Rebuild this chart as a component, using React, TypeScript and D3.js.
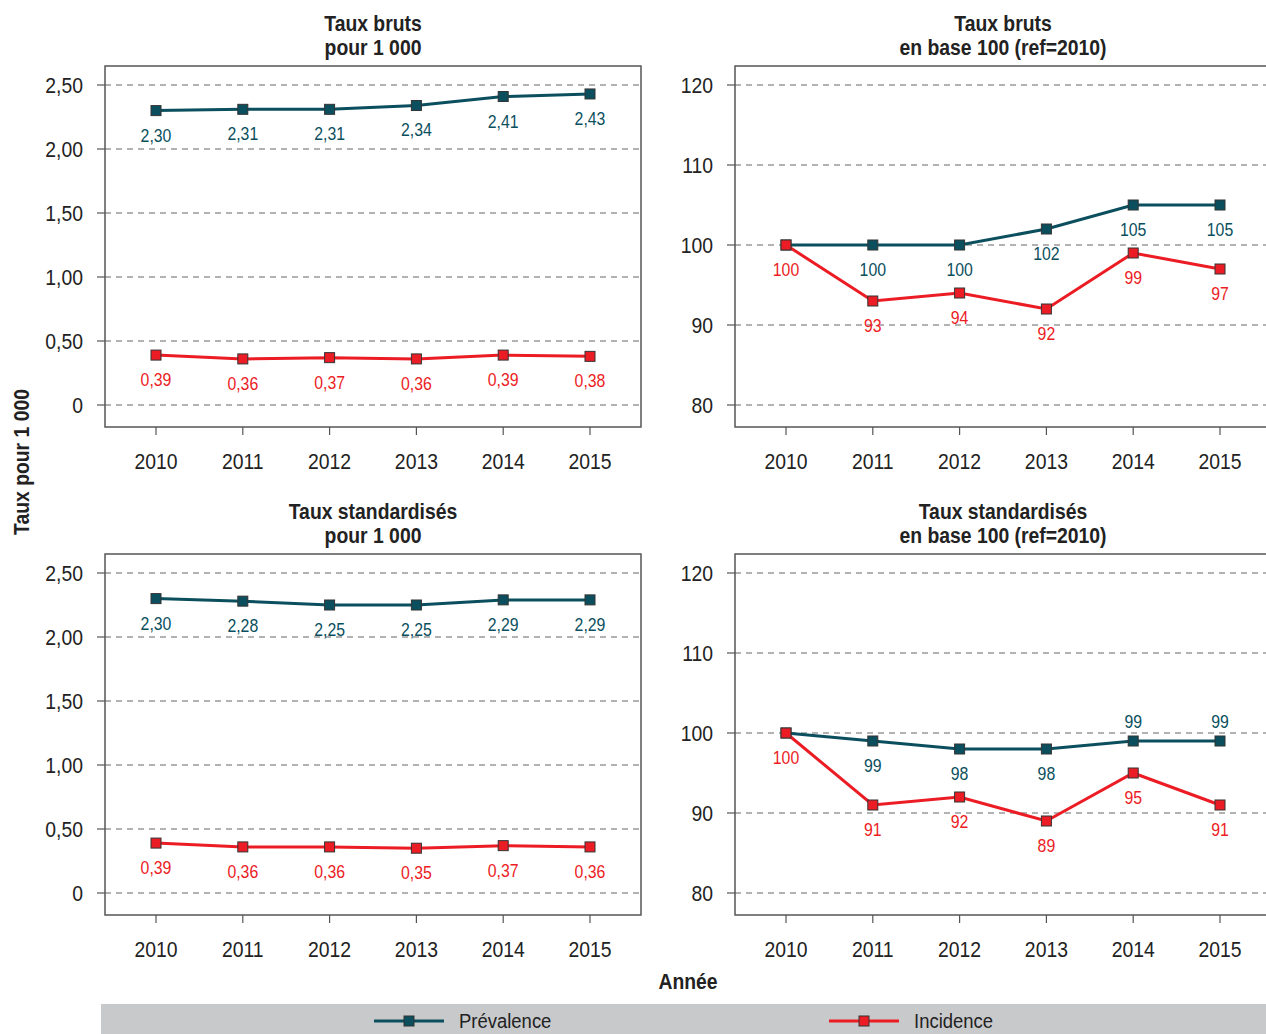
import React from "react";
import * as d3 from "d3";

const years = [2010, 2011, 2012, 2013, 2014, 2015];

const brutsPrevalence = [2.3, 2.31, 2.31, 2.34, 2.41, 2.43];
const brutsIncidence = [0.39, 0.36, 0.37, 0.36, 0.39, 0.38];
const brutsBasePrevalence = [100, 100, 100, 102, 105, 105];
const brutsBaseIncidence = [100, 93, 94, 92, 99, 97];
const stdPrevalence = [2.3, 2.28, 2.25, 2.25, 2.29, 2.29];
const stdIncidence = [0.39, 0.36, 0.36, 0.35, 0.37, 0.36];
const stdBasePrevalence = [100, 99, 98, 98, 99, 99];
const stdBaseIncidence = [100, 91, 92, 89, 95, 91];

const rateTicks = [0, 0.5, 1, 1.5, 2, 2.5];
const baseTicks = [80, 90, 100, 110, 120];

const panelTitles = [
  ["Taux bruts", "pour 1 000"],
  ["Taux bruts", "en base 100 (ref=2010)"],
  ["Taux standardisés", "pour 1 000"],
  ["Taux standardisés", "en base 100 (ref=2010)"],
];

const seriesNames = ["Prévalence", "Incidence"];
const COLORS = ["#0b4f5e", "#ec1c24"];
const FONT = "'Liberation Sans', Arial, sans-serif";
const SQUEEZE = 0.88;

const fmtRate = (v: number) => (v === 0 ? "0" : d3.format(".2f")(v).replace(".", ","));
const fmtBase = (v: number) => String(Math.round(v));

type TProps = {
  x: number;
  y: number;
  size: number;
  anchor?: "start" | "middle" | "end";
  bold?: boolean;
  fill?: string;
  rotate?: number;
  children: React.ReactNode;
};

// Condensed-looking text: regular sans face squeezed horizontally.
function T({ x, y, size, anchor = "start", bold = false, fill = "#222", rotate = 0, children }: TProps) {
  return (
    <text
      transform={`translate(${x},${y}) rotate(${rotate}) scale(${SQUEEZE},1)`}
      textAnchor={anchor}
      fontFamily={FONT}
      fontWeight={bold ? "bold" : "normal"}
      fontSize={size}
      fill={fill}
    >
      {children}
    </text>
  );
}

type PanelProps = {
  x0: number;
  y0: number;
  title: string[];
  domain: [number, number];
  ticks: number[];
  fmt: (v: number) => string;
  prev: number[];
  inc: number[];
  prevAbove?: number[];
};

function Panel({ x0, y0, title, domain, ticks, fmt, prev, inc, prevAbove = [] }: PanelProps) {
  const boxW = 536;
  const boxH = 361;
  const x = d3.scaleLinear().domain([2010, 2015]).range([x0 + 51, x0 + 485]);
  const y = d3.scaleLinear().domain(domain).range([y0 + 339, y0 + 19]);
  const line = d3
    .line<number>()
    .x((_, i) => x(years[i]))
    .y((d) => y(d));
  const cx = x0 + boxW / 2;
  const series = [prev, inc];
  return (
    <g>
      <T x={cx} y={y0 - 35} size={22} anchor="middle" bold>
        {title[0]}
      </T>
      <T x={cx} y={y0 - 11} size={22} anchor="middle" bold>
        {title[1]}
      </T>
      {ticks.map((t) => (
        <g key={t}>
          <line x1={x0 - 8} x2={x0} y1={y(t)} y2={y(t)} stroke="#555" strokeWidth={1.2} />
          <line x1={x0} x2={x0 + boxW} y1={y(t)} y2={y(t)} stroke="#666" strokeWidth={1.2} strokeDasharray="6,5" />
          <T x={x0 - 22} y={y(t) + 8} size={22} anchor="end">
            {fmt(t)}
          </T>
        </g>
      ))}
      <rect x={x0} y={y0} width={boxW} height={boxH} fill="none" stroke="#555" strokeWidth={1.5} />
      {years.map((yr) => (
        <g key={yr}>
          <line x1={x(yr)} x2={x(yr)} y1={y0 + boxH} y2={y0 + boxH + 8} stroke="#555" strokeWidth={1.2} />
          <T x={x(yr)} y={y0 + boxH + 42} size={22} anchor="middle">
            {yr}
          </T>
        </g>
      ))}
      {series.map((vals, s) => (
        <g key={s}>
          <path d={line(vals) || ""} fill="none" stroke={COLORS[s]} strokeWidth={3} />
          {vals.map((v, i) => (
            <rect
              key={i}
              x={x(years[i]) - 5}
              y={y(v) - 5}
              width={10}
              height={10}
              fill={COLORS[s]}
              stroke="#333"
              strokeWidth={1}
            />
          ))}
          {vals.map((v, i) => {
            // a shared point carries only one label
            if (s === 0 && inc[i] === v) return null;
            const above = s === 0 && prevAbove.includes(i);
            return (
              <T
                key={"l" + i}
                x={x(years[i])}
                y={above ? y(v) - 13 : y(v) + 31}
                size={18}
                anchor="middle"
                fill={COLORS[s]}
              >
                {fmt(v)}
              </T>
            );
          })}
        </g>
      ))}
    </g>
  );
}

export default function App() {
  const W = 1266;
  const H = 1034;
  return (
    <svg
      width={W}
      height={H}
      style={{ position: "absolute", left: 0, top: 0, display: "block", background: "#fff" }}
    >
      <Panel x0={105} y0={66} title={panelTitles[0]} domain={[0, 2.5]} ticks={rateTicks} fmt={fmtRate} prev={brutsPrevalence} inc={brutsIncidence} />
      <Panel x0={735} y0={66} title={panelTitles[1]} domain={[80, 120]} ticks={baseTicks} fmt={fmtBase} prev={brutsBasePrevalence} inc={brutsBaseIncidence} />
      <Panel x0={105} y0={554} title={panelTitles[2]} domain={[0, 2.5]} ticks={rateTicks} fmt={fmtRate} prev={stdPrevalence} inc={stdIncidence} />
      <Panel x0={735} y0={554} title={panelTitles[3]} domain={[80, 120]} ticks={baseTicks} fmt={fmtBase} prev={stdBasePrevalence} inc={stdBaseIncidence} prevAbove={[4, 5]} />

      <T x={29} y={462} size={22} anchor="middle" bold rotate={-90}>
        Taux pour 1 000
      </T>
      <T x={688} y={989} size={22} anchor="middle" bold>
        Année
      </T>

      <rect x={101} y={1004} width={W - 101} height={30} fill="#c8c9cb" />
      {seriesNames.map((name, s) => {
        const lx = s === 0 ? 374 : 829;
        return (
          <g key={name}>
            <line x1={lx} x2={lx + 70} y1={1021} y2={1021} stroke={COLORS[s]} strokeWidth={3} />
            <rect x={lx + 30} y={1016} width={10} height={10} fill={COLORS[s]} stroke="#333" strokeWidth={1} />
            <T x={lx + 85} y={1028} size={21}>
              {name}
            </T>
          </g>
        );
      })}
    </svg>
  );
}
